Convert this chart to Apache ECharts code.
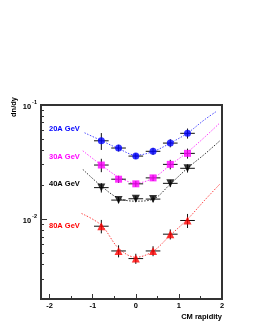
<!DOCTYPE html>
<html><head><meta charset="utf-8">
<script src="https://cdn.jsdelivr.net/npm/echarts@6/dist/echarts.min.js"></script>
<style>html,body{margin:0;padding:0;background:#fff}#c{width:253px;height:327px}</style>
</head><body><div id="c"></div>
<script>
// ---- data ----
const rapidity = [-0.8, -0.4, 0, 0.4, 0.8, 1.2];
const xErr = 0.17;
const y20 = [0.0486, 0.0420, 0.0357, 0.0393, 0.0464, 0.0565];
const e20 = [0.0082, 0.0028, 0.0021, 0.0028, 0.0038, 0.0057];
const y30 = [0.0298, 0.0224, 0.0204, 0.0230, 0.0302, 0.0377];
const e30 = [0.0040, 0.0016, 0.0012, 0.0014, 0.0029, 0.0038];
const y40 = [0.0189, 0.0147, 0.0151, 0.0150, 0.0206, 0.0279];
const e40 = [0.0018, 0.0009, 0.0009, 0.0009, 0.0015, 0.0023];
const y80 = [0.00868, 0.00527, 0.00452, 0.00527, 0.00739, 0.00974];
const e80 = [0.00117, 0.00064, 0.00046, 0.00053, 0.00075, 0.00137];

const fitX20 = [-1.19, -0.8, -0.4, 0, 0.4, 0.8, 1.2, 1.6, 1.86];
const fitY20 = [0.0571, 0.0488, 0.0415, 0.0364, 0.0391, 0.0464, 0.0568, 0.0746, 0.0873];
const fitX30 = [-1.23, -0.8, -0.4, 0, 0.4, 0.8, 1.2, 1.6, 1.94];
const fitY30 = [0.0397, 0.0298, 0.0234, 0.0207, 0.0229, 0.0298, 0.0387, 0.0524, 0.0691];
const fitX40 = [-1.23, -0.8, -0.4, 0, 0.4, 0.8, 1.2, 1.6, 1.95];
const fitY40 = [0.0273, 0.0195, 0.01528, 0.01438, 0.01497, 0.0203, 0.0280, 0.0372, 0.0486];
const fitX80 = [-1.26, -0.8, -0.4, 0, 0.4, 0.8, 1.2, 1.6, 1.95];
const fitY80 = [0.01122, 0.00886, 0.00557, 0.00464, 0.00524, 0.00724, 0.0100, 0.01468, 0.0203];

const labels = ['20A GeV', '30A GeV', '40A GeV', '80A GeV'];
const xMajorTicks = [-2, -1, 0, 1, 2];
const xMinorTicks = [-1.5, -0.5, 0.5, 1.5];
const yMajorTicks = [0.01, 0.1];
const yMinorTicks = [0.002,0.003,0.004,0.005,0.006,0.007,0.008,0.009,0.02,0.03,0.04,0.05,0.06,0.07,0.08,0.09];
const xTitle = 'CM rapidity';
const yTitle = 'dn/dy';

// ---- chart ----
const FONT = 'Liberation Sans';
const colors = ['#0000ff', '#ff00ff', '#000000', '#ff0000'];
const fitColors = ['#4a4aff', '#ff40ff', '#333333', '#ff4040'];
const symbols = ['circle', 'rect', 'triangle', 'triangle'];
const symRot = [0, 0, 180, 0];
const symSize = [7, 7, 8, 8];
const ys = [y20, y30, y40, y80];
const es = [e20, e30, e40, e80];
const fx = [fitX20, fitX30, fitX40, fitX80];
const fy = [fitY20, fitY30, fitY40, fitY80];

const chart = echarts.init(document.getElementById('c'), null, {renderer: 'canvas'});
const axisLineStyle = {color: '#333', width: 2};
const series = [];
for (let k = 0; k < 4; k++) {
  series.push({
    type: 'line', smooth: 0.35, showSymbol: false, silent: true, z: 2,
    data: fx[k].map((x, i) => [x, fy[k][i]]),
    lineStyle: {color: fitColors[k], width: 1, type: [1.5, 1.5]}
  });
  series.push({
    type: 'custom', z: 3, silent: true,
    data: rapidity.map((x, i) => [x, ys[k][i], ys[k][i] - es[k][i], ys[k][i] + es[k][i]]),
    encode: {x: 0, y: [1, 2, 3]},
    renderItem: function (params, api) {
      const x = api.value(0), y = api.value(1), lo = api.value(2), hi = api.value(3);
      const c = api.coord([x, y]);
      const l = api.coord([x - xErr, y]);
      const r = api.coord([x + xErr, y]);
      const t = api.coord([x, hi]);
      const b = api.coord([x, lo]);
      const st = {stroke: '#111', lineWidth: 1};
      return {type: 'group', children: [
        {type: 'line', shape: {x1: l[0], y1: c[1], x2: r[0], y2: c[1]}, style: st},
        {type: 'line', shape: {x1: c[0], y1: t[1], x2: c[0], y2: b[1]}, style: st}
      ]};
    }
  });
  series.push({
    type: 'scatter', z: 4, silent: true,
    symbol: symbols[k], symbolRotate: symRot[k], symbolSize: symSize[k],
    itemStyle: {color: colors[k]},
    data: rapidity.map((x, i) => [x, ys[k][i]])
  });
}

const labelY = [129.3, 157.3, 184.3, 226];
const graphics = labels.map((t, k) => ({
  type: 'text', x: 49, y: labelY[k], z: 10,
  style: {text: t, fill: colors[k], font: 'bold 7.5px "' + FONT + '"', verticalAlign: 'middle', align: 'left'}
}));
graphics.push({type: 'text', x: 14, y: 107, rotation: Math.PI / 2, z: 10,
  style: {text: yTitle, fill: '#000', font: 'bold 7.5px "' + FONT + '"', align: 'center', verticalAlign: 'middle'}});
graphics.push({type: 'text', x: 222, y: 317, z: 10,
  style: {text: xTitle, fill: '#000', font: 'bold 7.5px "' + FONT + '"', align: 'right', verticalAlign: 'middle'}});

chart.setOption({
  animation: false,
  backgroundColor: '#fff',
  grid: {left: 41, top: 105, width: 181, height: 194, show: true, borderColor: '#333', borderWidth: 2, backgroundColor: 'transparent'},
  xAxis: [
    {type: 'value', min: -2.2, max: 2, position: 'bottom',
      axisLine: {show: true, onZero: false, lineStyle: axisLineStyle},
      axisTick: {show: true, inside: true, length: 5, customValues: xMajorTicks, lineStyle: {color: '#333', width: 1}},
      axisLabel: {show: true, customValues: xMajorTicks, margin: 3, color: '#000', fontFamily: FONT, fontWeight: 'bold', fontSize: 7.5},
      splitLine: {show: false}},
    {type: 'value', min: -2.2, max: 2, position: 'bottom',
      axisLine: {show: false, onZero: false},
      axisTick: {show: true, inside: true, length: 3, customValues: xMinorTicks, lineStyle: {color: '#333', width: 1}},
      axisLabel: {show: false}, splitLine: {show: false}}
  ],
  yAxis: [
    {type: 'log', logBase: 10, min: 0.002, max: 0.1, position: 'left',
      axisLine: {show: true, onZero: false, lineStyle: axisLineStyle},
      axisTick: {show: true, inside: true, length: 6, customValues: yMajorTicks, lineStyle: {color: '#333', width: 1}},
      axisLabel: {show: true, customValues: yMajorTicks, margin: 4, color: '#000',
        formatter: function (v) { const p = Math.round(Math.log10(v)); return '{b|10}{s|' + p + '}'; },
        rich: {
          b: {fontFamily: FONT, fontWeight: 'bold', fontSize: 7.5, verticalAlign: 'bottom', color: '#000'},
          s: {fontFamily: FONT, fontWeight: 'bold', fontSize: 5.5, verticalAlign: 'bottom', padding: [0, 0, 5, 1], color: '#000'}
        }},
      splitLine: {show: false}},
    {type: 'log', logBase: 10, min: 0.002, max: 0.1, position: 'left',
      axisLine: {show: false, onZero: false},
      axisTick: {show: true, inside: true, length: 3, customValues: yMinorTicks, lineStyle: {color: '#333', width: 1}},
      axisLabel: {show: false}, splitLine: {show: false}}
  ],
  graphic: graphics,
  series: series
});
</script></body></html>
